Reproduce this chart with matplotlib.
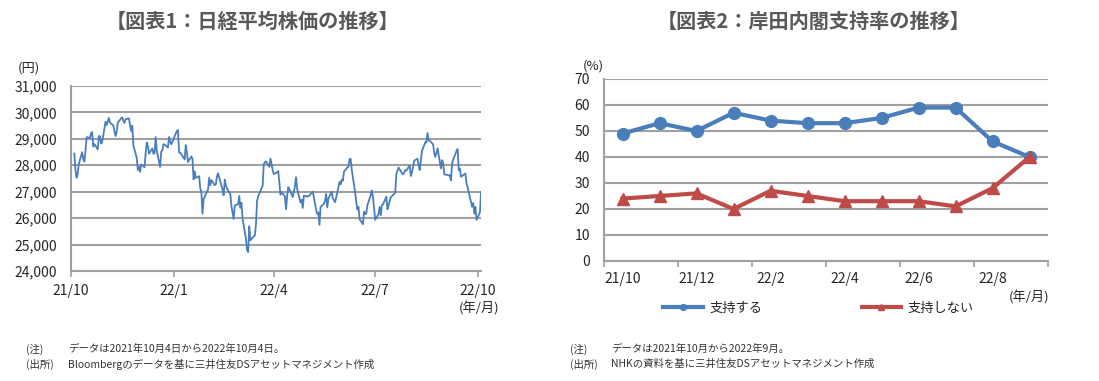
import numpy as np
import pandas as pd
import matplotlib
matplotlib.use('Agg')
import matplotlib.pyplot as plt

plt.rcParams['font.family'] = ['Noto Sans CJK JP', 'DejaVu Sans']

# Nikkei 225 closes, 2021/10/4 - 2022/10/4 (trading days)
nikkei = [
    # 2021/10
    28444, 27822, 27528, 27678, 28048, 28498, 28230, 28140, 28550, 29068,
    29025, 29215, 29255, 28708, 28804, 28600, 29106, 29098, 28820, 28892,
    # 2021/11
    29647, 29520, 29794, 29611, 29507, 29285, 29106, 29277, 29610, 29777,
    29808, 29688, 29599, 29745, 29774, 29302, 29499, 28751, 28283, 27821,
    # 2021/12
    27935, 27753, 28029, 27927, 28455, 28860, 28725, 28437, 28640, 28432, 28459,
    29066, 28545, 27937, 28517, 28562, 28798, 28782, 28676, 29069, 28906, 28791,
    # 2022/1
    29301, 29332, 28487, 28479, 28222, 28765, 28489, 28124, 28333, 28257,
    27467, 27772, 27522, 27588, 27131, 27011, 26170, 26717, 27001,
    # 2022/2
    27078, 27533, 27241, 27439, 27248, 27284, 27579, 27696, 27079,
    26865, 27460, 27232, 27122, 26910, 26449, 25970, 26476, 26526,
    # 2022/3
    26844, 26393, 26577, 25985, 25221, 24790, 24717, 25690, 25162, 25307, 25346,
    25762, 26652, 26827, 27224, 28040, 28110, 28149, 27943, 28252, 28027, 27821,
    # 2022/4
    27665, 27736, 27787, 27350, 26888, 26985, 26821, 26334, 26843, 27172,
    27093, 26799, 26985, 27217, 27553, 27105, 26590, 26700, 26386, 26847,
    # 2022/5
    26818, 27003, 26319, 26167, 26213, 25748, 26427, 26547, 26659, 26911,
    26402, 26739, 27001, 26748, 26677, 26604, 26781, 27369, 27279,
    # 2022/6
    27457, 27413, 27761, 27915, 27943, 28234, 28246, 27824, 26987, 26629, 26326,
    26431, 25963, 25771, 26246, 26149, 26171, 26491, 26871, 27049, 26804, 26393,
    # 2022/7
    25935, 26153, 26423, 26107, 26490, 26517, 26812, 26336, 26478, 26643,
    26788, 26961, 27680, 27803, 27915, 27699, 27655, 27715, 27815, 27801,
    # 2022/8
    27993, 27594, 27741, 27932, 28176, 28249, 27999, 27819, 28546, 28871, 28868,
    29222, 28942, 28930, 28794, 28452, 28313, 28479, 28641, 27878, 28195, 28091,
    # 2022/9
    27661, 27650, 27619, 27626, 27430, 28065, 28214, 28542, 28614, 27818,
    27875, 27567, 27688, 27313, 27153, 26431, 26571, 26173, 26422, 25937,
    # 2022/10
    26215, 26992,
]
jp_holidays = ['2021-11-03', '2021-11-23', '2021-12-31', '2022-01-03', '2022-01-10',
               '2022-02-11', '2022-02-23', '2022-03-21', '2022-04-29', '2022-05-03',
               '2022-05-04', '2022-05-05', '2022-07-18', '2022-08-11', '2022-09-19',
               '2022-09-23']
nikkei_ticks = ['2021-10-01', '2022-01-01', '2022-04-01', '2022-07-01', '2022-10-01']
nikkei_ticklabels = ['21/10', '22/1', '22/4', '22/7', '22/10']

# Kishida cabinet approval (NHK)
months = ['21/10', '21/11', '21/12', '22/1', '22/2', '22/3',
          '22/4', '22/5', '22/6', '22/7', '22/8', '22/9']
support = [49, 53, 50, 57, 54, 53, 53, 55, 59, 59, 46, 40]
no_support = [24, 25, 26, 20, 27, 25, 23, 23, 23, 21, 28, 40]

dates = pd.bdate_range('2021-10-04', '2022-10-04', freq='C', holidays=jp_holidays)
dates = dates[:len(nikkei)]

grid_c = '#a0a0a0'
txt_c = '#262626'
blue = '#4a7ebb'
red = '#be4b48'

fig = plt.figure(figsize=(10.99, 3.81), dpi=100)

# ---- left chart ----
ax1 = fig.add_axes([0.0646, 0.2887, 0.3731, 0.4856])
ax1.plot(dates, nikkei, color=blue, lw=1.3)
ax1.set_xlim(pd.Timestamp('2021-10-01'), pd.Timestamp('2022-10-04'))
ax1.set_ylim(24000, 31000)
ax1.set_yticks(np.arange(24000, 31001, 1000))
ax1.yaxis.set_major_formatter(matplotlib.ticker.FuncFormatter(lambda v, p: f'{int(v):,}'))
ax1.set_xticks(pd.to_datetime(nikkei_ticks))
ax1.set_xticklabels(nikkei_ticklabels)
ax1.grid(axis='y', color=grid_c, lw=1.5)
ax1.set_axisbelow(True)
for s in ['top', 'right']:
    ax1.spines[s].set_visible(False)
for s in ['left', 'bottom']:
    ax1.spines[s].set_color(grid_c)
    ax1.spines[s].set_linewidth(1.5)
ax1.tick_params(axis='y', length=0, pad=10, labelsize=10, labelcolor=txt_c)
ax1.tick_params(axis='x', length=4, color=grid_c, width=1.2, pad=5, labelsize=10, labelcolor=txt_c)
fig.text(0.016, 0.822, '(円)', fontsize=9.5, color=txt_c, va='center')
fig.text(0.417, 0.19, '(年/月)', fontsize=9.5, color=txt_c, va='center')

# ---- right chart ----
x = np.arange(len(months))
ax2 = fig.add_axes([0.5496, 0.315, 0.404, 0.4777])
ax2.plot(x, support, color=blue, lw=3, marker='o', ms=8.5, label='支持する')
ax2.plot(x, no_support, color=red, lw=3, marker='^', ms=8.5, label='支持しない')
ax2.set_xlim(-0.5, len(months) - 0.5)
ax2.set_ylim(0, 70)
ax2.set_yticks(np.arange(0, 71, 10))
ax2.set_xticks(x[::2])
ax2.set_xticklabels(months[::2])
ax2.set_xticks(np.arange(-0.5, len(months), 2), minor=True)
ax2.grid(axis='y', color=grid_c, lw=1.5)
ax2.set_axisbelow(True)
for s in ['top', 'right']:
    ax2.spines[s].set_visible(False)
for s in ['left', 'bottom']:
    ax2.spines[s].set_color(grid_c)
    ax2.spines[s].set_linewidth(1.5)
ax2.tick_params(axis='y', length=0, pad=10, labelsize=10, labelcolor=txt_c)
ax2.tick_params(axis='x', which='major', length=0, pad=8, labelsize=10, labelcolor=txt_c)
ax2.tick_params(axis='x', which='minor', length=4, color=grid_c, width=1.2)
fig.text(0.530, 0.827, '(%)', fontsize=9.5, color=txt_c, va='center')
fig.text(0.918, 0.22, '(年/月)', fontsize=9.5, color=txt_c, va='center')
fig.legend(loc='center', bbox_to_anchor=(0.745, 0.19), ncol=2, frameon=False,
           fontsize=9.5, handlelength=3.0, handletextpad=0.5, columnspacing=7.5,
           markerscale=0.5, labelcolor=txt_c)

# ---- titles ----
title_c = '#595959'
fig.text(0.23, 0.945, '【図表1：日経平均株価の推移】', ha='center', va='center',
         fontsize=14.5, fontweight='bold', color=title_c)
fig.text(0.74, 0.945, '【図表2：岸田内閣支持率の推移】', ha='center', va='center',
         fontsize=14.5, fontweight='bold', color=title_c)

# ---- notes ----
note_c = '#333333'
y1, y2 = 0.084, 0.044
fig.text(0.024, y1, '(注)', fontsize=7.5, color=note_c, va='center')
fig.text(0.062, y1, 'データは2021年10月4日から2022年10月4日。', fontsize=7.5, color=note_c, va='center')
fig.text(0.024, y2, '(出所)', fontsize=7.5, color=note_c, va='center')
fig.text(0.062, y2, 'Bloombergのデータを基に三井住友DSアセットマネジメント作成', fontsize=7.5, color=note_c, va='center')
fig.text(0.519, y1, '(注)', fontsize=7.5, color=note_c, va='center')
fig.text(0.556, y1, 'データは2021年10月から2022年9月。', fontsize=7.5, color=note_c, va='center')
fig.text(0.519, y2, '(出所)', fontsize=7.5, color=note_c, va='center')
fig.text(0.556, y2, 'NHKの資料を基に三井住友DSアセットマネジメント作成', fontsize=7.5, color=note_c, va='center')

fig.savefig('out.png', dpi=100)
